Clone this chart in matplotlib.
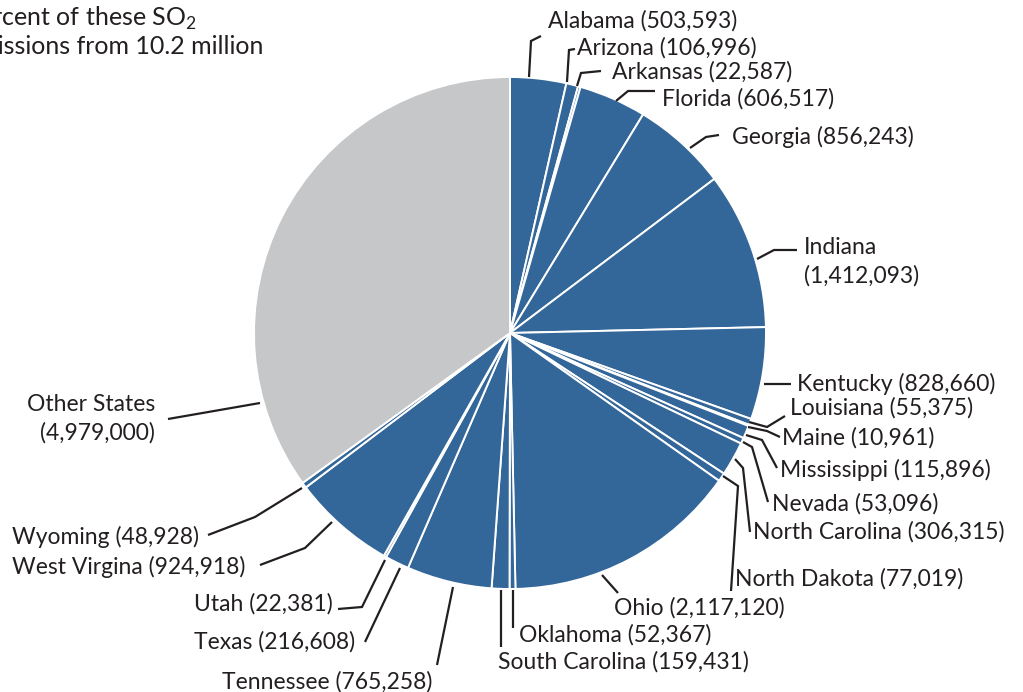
import matplotlib
matplotlib.use("Agg")
import matplotlib.pyplot as plt

plt.rcParams['font.family'] = ['Lato', 'DejaVu Sans']
plt.rcParams['mathtext.fontset'] = 'custom'
plt.rcParams['mathtext.rm'] = 'Lato'

# SO2 emissions (tons) by state, clockwise from 12 o'clock
states = ['Alabama', 'Arizona', 'Arkansas', 'Florida', 'Georgia', 'Indiana',
          'Kentucky', 'Louisiana', 'Maine', 'Mississippi', 'Nevada',
          'North Carolina', 'North Dakota', 'Ohio', 'Oklahoma',
          'South Carolina', 'Tennessee', 'Texas', 'Utah', 'West Virgina',
          'Wyoming', 'Other States']
emissions = [503593, 106996, 22587, 606517, 856243, 1412093,
             828660, 55375, 10961, 115896, 53096,
             306315, 77019, 2117120, 52367,
             159431, 765258, 216608, 22381, 924918,
             48928, 4979000]

BLUE = '#336699'
GREY = '#c6c7c9'
INK = '#231f20'

# label placement in pixel space (x, y, horizontal alignment)
label_pos = {
    'Alabama': (548, 21, 'left'),
    'Arizona': (577, 48, 'left'),
    'Arkansas': (612, 72, 'left'),
    'Florida': (662, 99, 'left'),
    'Georgia': (732, 137, 'left'),
    'Indiana': (804, 262, 'left'),
    'Kentucky': (797, 384, 'left'),
    'Louisiana': (790, 408, 'left'),
    'Maine': (782, 438, 'left'),
    'Mississippi': (780, 470, 'left'),
    'Nevada': (772, 504, 'left'),
    'North Carolina': (753, 532, 'left'),
    'North Dakota': (735, 579, 'left'),
    'Ohio': (614, 608, 'left'),
    'Oklahoma': (519, 635, 'left'),
    'South Carolina': (498, 662, 'left'),
    'Tennessee': (432, 682, 'right'),
    'Texas': (355, 642, 'right'),
    'Utah': (333, 604, 'right'),
    'West Virgina': (245, 567, 'right'),
    'Wyoming': (199, 537, 'right'),
    'Other States': (155, 419, 'right'),
}
two_line = ['Indiana', 'Other States']

# leader lines (pixel polylines from the pie edge to the label)
leaders = {
    'Alabama': [(529, 77), (531, 41), (541, 36)],
    'Arizona': [(567, 82), (569, 50), (575, 49)],
    'Arkansas': [(577, 86), (581, 73), (601, 71)],
    'Florida': [(616, 101), (628, 91), (655, 91)],
    'Georgia': [(690, 148), (706, 137), (719, 135)],
    'Indiana': [(757, 259), (774, 250), (797, 250)],
    'Kentucky': [(764, 384), (791, 384)],
    'Louisiana': [(749, 422), (767, 427), (785, 416)],
    'Maine': [(748, 427), (767, 431), (780, 437)],
    'Mississippi': [(746, 435), (762, 440), (777, 468)],
    'Nevada': [(743, 442), (752, 447), (768, 502)],
    'North Carolina': [(735, 459), (743, 468), (750, 532)],
    'North Dakota': [(723, 476), (738, 486), (731, 591)],
    'Ohio': [(602, 575), (618, 593)],
    'Oklahoma': [(513, 590), (513, 628)],
    'South Carolina': [(501, 590), (501, 647)],
    'Tennessee': [(453, 587), (437, 665)],
    'Texas': [(400, 568), (365, 642)],
    'Utah': [(385, 560), (362, 607), (338, 609)],
    'West Virgina': [(332, 522), (305, 548), (260, 565)],
    'Wyoming': [(302, 488), (255, 517), (208, 535)],
    'Other States': [(260, 403), (168, 419)],
}

fig = plt.figure(figsize=(10.23, 6.92), dpi=100)
ax = fig.add_axes([0, 0, 1, 1])

colors = [GREY if s == 'Other States' else BLUE for s in states]
# y axis runs downward, so counterclock=True reads clockwise on screen
ax.pie(emissions, colors=colors, startangle=-90, counterclock=True,
       center=(510, 333), radius=256,
       wedgeprops=dict(edgecolor='white', linewidth=1.4))

for s, v in zip(states, emissions):
    x, y, ha = label_pos[s]
    sep = '\n' if s in two_line else ' '
    ax.text(x, y, f'{s}{sep}({v:,})', ha=ha, va='center', fontsize=16.5,
            color=INK, linespacing=1.4, multialignment=ha)
    xs, ys = zip(*leaders[s])
    ax.plot(xs, ys, color=INK, lw=1.6, solid_capstyle='butt',
            solid_joinstyle='miter')

ax.set_xlim(0, 1023)
ax.set_ylim(692, 0)
ax.set_aspect('equal')
ax.axis('off')

# chart heading, left-aligned and running off the left edge
head2 = ax.text(263, 47, 'emissions from 10.2 million', ha='right',
                va='center', fontsize=18, color=INK)
fig.canvas.draw()
left = head2.get_window_extent().x0
ax.text(left, 18, 'Percent of these SO$_\\mathregular{2}$', ha='left',
        va='center', fontsize=18, color=INK)

fig.savefig('out.png', dpi=100, facecolor='white')
